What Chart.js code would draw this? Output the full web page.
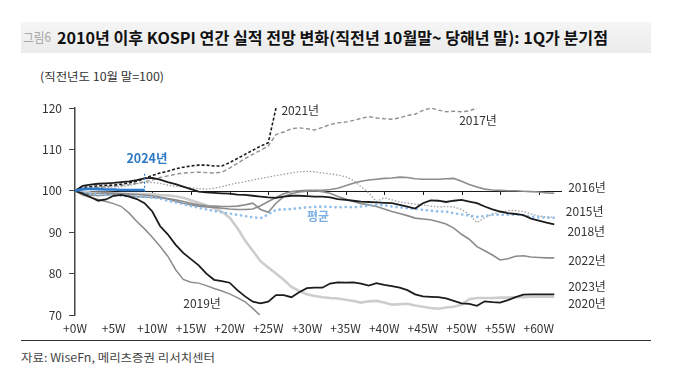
<!DOCTYPE html>
<html><head><meta charset="utf-8">
<script src="https://cdn.jsdelivr.net/npm/chart.js@4"></script>
<style>
html,body{margin:0;padding:0;background:#fff;}
body{width:680px;height:378px;position:relative;overflow:hidden;font-family:"Noto Sans CJK KR","Noto Sans",sans-serif;}
#bar{position:absolute;left:21px;top:22px;width:630px;height:31px;background:linear-gradient(#f5f5f5,#ebebeb);}
.t{position:absolute;white-space:nowrap;transform-origin:0 0;}
#fig{left:23px;top:29px;font-size:13px;color:#a8a8a8;line-height:16px;}
#title{left:57px;top:27px;font-size:16px;font-weight:bold;color:#111;line-height:20px;}
#unit{left:40px;top:68px;font-size:11.5px;color:#333;line-height:16px;}
#rule{position:absolute;left:21px;top:340px;width:630px;height:1px;background:#333;}
#src{left:21px;top:349px;font-size:11.5px;color:#444;line-height:16px;}
canvas{position:absolute;left:0;top:0;}
</style></head>
<body>
<div id="bar"></div>
<div id="fig" class="t">그림6</div>
<div id="title" class="t">2010년 이후 KOSPI 연간 실적 전망 변화(직전년 10월말~ 당해년 말): 1Q가 분기점</div>
<div id="unit" class="t">(직전년도 10월 말=100)</div>
<div id="rule"></div>
<div id="src" class="t">자료: WiseFn, 메리츠증권 리서치센터</div>
<canvas id="c" width="680" height="378"></canvas>
<script>
// ---- data (index = weeks after end of October of previous year) ----
const xTickLabels = ['+0W','+5W','+10W','+15W','+20W','+25W','+30W','+35W','+40W','+45W','+50W','+55W','+60W'];
const yTicks = [70, 80, 90, 100, 110, 120];
const baseValue = 100;

const y2015 = [100,100.3,100.6,100.8,100.8,100.9,101,101.3,101.7,102,102,101.8,101.4,101.1,100.9,100.7,100.5,100.4,100.6,101,101.5,101.9,102.2,102.6,103,103.3,103.7,104,104.3,104.6,104.7,104.6,104.3,104.1,103.8,103.4,102.5,101,99.5,97.4,98.3,97.8,97.3,97,96.8,96.6,96.3,96.1,96.2,96.1,95.5,94.3,92.3,93.5,94.4,94.8,95.2,95.2,95,94.4,93.9,93.7,93.6];
const y2016 = [100,99.6,99.3,99.4,99.5,99.4,99.3,99.2,99.1,99,98.8,98.5,98,97.5,97,96.6,96.3,96.1,96,95.8,95.6,95.5,95.5,95.6,96.4,97.4,98.4,99.3,99.8,100,100.1,100.1,100.1,100.3,100.6,101.2,101.8,102.3,102.6,102.8,103,103.1,103.3,103.2,102.9,102.8,102.8,102.8,102.9,103,102.3,101.5,100.9,100.4,100.2,100.1,100,100,99.9,99.8,99.7,99.5,99.4];
const y2017 = [100,100.4,100.6,100.8,101,101.1,101.3,101.5,101.8,102.2,102.6,103.2,103.6,104,104.3,104.4,104.5,104.4,104.3,104.5,105.5,106.6,107.8,108.8,109.8,110.8,113.6,114.2,115,115.2,115,114.7,115.3,116,116.4,116.6,117,117.5,117.9,117.6,117.4,117.3,117.6,118.2,118.5,119.4,120,119.5,119.1,119.2,119.1,119.3,120];
const y2018 = [100,101.2,101.5,101.7,101.8,101.9,102.1,102.3,102.6,103,103.1,102.7,102.1,101.6,101,100.4,99.8,99.6,99.5,99.4,99.3,99.1,99,98.8,98.6,98.4,98.3,98.6,98.8,98.8,98.7,98.6,98.6,98.4,98,97.8,97.6,97.4,97.3,97.2,97.1,97,96.6,96.2,95.7,97,97.7,97.6,97.3,97.6,97.8,97.4,97,96.2,95.5,95,94.6,94.4,94.1,93.3,92.8,92.3,91.9];
const y2019 = [100,99,98.4,97.9,97.4,96.9,96.2,94.6,92.6,90.8,88.8,86.6,84.2,81,78.6,77.9,77.7,77.1,76.4,75.8,75.1,74.2,73.2,71.6,69.8,68];
const y2020 = [100,99.8,99.6,99.5,99.5,99.4,99.4,99.3,99.3,99.2,99.2,99,98.9,98.7,98.3,97.7,97.1,96.5,95.8,95,93.5,91,88,85.5,83,81.5,80,78.5,76.8,75.8,75,74.6,74.3,74.1,74,73.7,73.4,73,73.3,73.4,73,72.5,72.6,72.7,72.3,72,71.7,71.5,71.8,72,72.5,73.8,74.1,74.1,74.1,74.2,74.2,74.3,74.3,74.4,74.4,74.4,74.4];
const y2021 = [100,100.8,101,101.2,101.3,101.4,101.6,101.9,102.3,103,103.7,104.3,104.7,105.3,105.7,106,106.2,106.2,106,106,106.8,107.8,108.8,109.8,110.8,111.6,120];
const y2022 = [100,99.5,99,98.8,99,99.2,99,98.8,98.6,98.5,98.4,98.3,98.1,97.8,97.4,97,96.6,96.4,96.3,96.2,96.2,96.3,96.6,97,95.5,94.8,97,98.6,99.3,99.7,99.9,100,99.8,99.4,98.6,98,97.4,96.9,96.6,96.2,95.6,95,94.5,94,93.4,93.2,93,92.5,92,91,89.5,88.3,86.5,85.5,84.5,83.3,83.6,84.2,84.3,84,83.9,83.8,83.8];
const y2023 = [100,99.3,98.5,97.6,97.9,98.8,99,98.6,98,97,95,91.5,89.5,87,85,83.5,82,80,78.5,78.2,77.8,76,74.5,73.2,72.8,73.2,74.8,74.8,74.3,75.5,76.5,76.6,76.6,77.6,77.9,77.8,77.9,77.6,77.1,77.7,77.3,77,76.6,76,75,74.5,74.4,74.3,74,73.4,72.8,72.7,72.2,73.3,73.1,73,73.6,74.3,74.9,75,75,75,75];
const y2024 = [100,100.4,100.5,100.4,100.3,100.3,100.2,100.2,100.2,100.2];
const yAvg  = [100,99.6,99.3,99.1,99,98.9,98.8,98.7,98.6,98.5,98.4,98.1,97.6,97.2,96.8,96.3,95.9,95.5,95.1,94.8,94.5,94.2,93.9,93.6,93.4,94.3,95.4,95.5,95.6,95.8,96,96.1,96.2,96.1,96,96.1,96,96.2,96.4,96.6,96.5,96.2,96,95.8,95.6,95.4,95.2,95,95,94.6,94.3,94,93.7,93.9,94.2,94.2,94.2,94.2,94.1,93.8,93.6,93.5,93.5];
const marker2024Week = 9;
const marker2024Range = [99.8, 104.6];

// ---- label annotations (data units) ----
const seriesLabels = [
  {text:'2021년', w:26.7, v:119.3},
  {text:'2017년', w:49.7, v:117.1},
  {text:'2016년', w:63.8, v:100.9},
  {text:'2015년', w:63.5, v:94.9},
  {text:'2018년', w:63.7, v:90.3},
  {text:'2022년', w:63.8, v:83.3},
  {text:'2023년', w:63.8, v:77.0},
  {text:'2020년', w:63.8, v:72.9},
  {text:'2019년', w:14.0, v:72.9},
  {text:'평균',   w:30.0, v:93.7, color:'#7db0e3', bold:true},
  {text:'2024년', w:9.3,  v:107.9, color:'#2e7bc4', bold:true, center:true, size:12.5}
];

function pts(arr){ return arr.map((v,i)=>({x:i, y:v})); }

const BLACK='#1c1c1c', GRAY='#8c8c8c', LGRAY='#cdcdcd', BLUE='#2f7ccc', LBLUE='#8fbde9';
const datasets = [
  {label:'2024', data:pts(y2024), borderColor:BLUE, borderWidth:2.6},
  {label:'2024m', data:[{x:marker2024Week,y:marker2024Range[0]},{x:marker2024Week,y:marker2024Range[1]}], borderColor:BLUE, borderWidth:1.2, borderDash:[2,2]},
  {label:'2023', data:pts(y2023), borderColor:BLACK, borderWidth:1.8},
  {label:'2018', data:pts(y2018), borderColor:BLACK, borderWidth:1.8},
  {label:'2021', data:pts(y2021), borderColor:BLACK, borderWidth:1.6, borderDash:[3,2]},
  {label:'avg', data:pts(yAvg), borderColor:LBLUE, borderWidth:2.6, borderDash:[0.1,5], borderCapStyle:'round'},
  {label:'2017', data:pts(y2017), borderColor:'#909090', borderWidth:1.4, borderDash:[4,2.5]},
  {label:'2015', data:pts(y2015), borderColor:'#a0a0a0', borderWidth:1.3, borderDash:[1.5,1.8]},
  {label:'2016', data:pts(y2016), borderColor:GRAY, borderWidth:1.6},
  {label:'2022', data:pts(y2022), borderColor:GRAY, borderWidth:1.6},
  {label:'2019', data:pts(y2019), borderColor:GRAY, borderWidth:1.5},
  {label:'2020', data:pts(y2020), borderColor:LGRAY, borderWidth:2.6}
].map(d=>Object.assign({pointRadius:0, pointHoverRadius:0, tension:0, fill:false}, d));

const FONT = '"Noto Sans CJK KR","Noto Sans",sans-serif';

const decor = {
  id:'decor',
  beforeDatasetsDraw(chart){
    const {ctx, scales:{x,y}} = chart;
    const yy = Math.round(y.getPixelForValue(baseValue))+0.5;
    ctx.save();
    ctx.strokeStyle='#1a1a1a'; ctx.lineWidth=1;
    ctx.beginPath();
    ctx.moveTo(x.left, yy); ctx.lineTo(x.getPixelForValue(x.max), yy);
    x.ticks.forEach(t=>{ if(t.value===0) return; const px=Math.round(x.getPixelForValue(t.value))+0.5; ctx.moveTo(px,yy); ctx.lineTo(px,yy+3.5); });
    ctx.stroke();
    ctx.restore();
  },
  afterDatasetsDraw(chart){
    const {ctx, scales:{x,y}} = chart;
    ctx.save();
    ctx.textBaseline='middle';
    seriesLabels.forEach(l=>{
      ctx.font=(l.bold?'bold ':'')+(l.size||12)+'px '+FONT;
      ctx.fillStyle=l.color||'#333';
      ctx.textAlign=l.center?'center':'left';
      ctx.fillText(l.text, x.getPixelForValue(l.w), y.getPixelForValue(l.v));
    });
    ctx.restore();
  }
};

new Chart(document.getElementById('c'), {
  type:'line',
  data:{datasets},
  options:{
    responsive:false, animation:false, events:[],
    layout:{padding:{left:0, top:108, right:118, bottom:0}},
    plugins:{legend:{display:false}, tooltip:{enabled:false}},
    scales:{
      x:{type:'linear', min:0, max:63,
        grid:{display:false, drawTicks:false, tickLength:0}, border:{display:false},
        ticks:{stepSize:5, includeBounds:false, autoSkip:false, maxRotation:0, padding:6,
          color:'#333', font:{family:FONT, size:12},
          callback:(v)=> (v%5===0 ? xTickLabels[v/5] : '')},
        afterFit:(s)=>{ s.height=63; }
      },
      y:{min:70, max:120,
        grid:{drawOnChartArea:false, drawTicks:true, tickLength:6, color:'#444', lineWidth:1},
        border:{display:true, color:'#444', width:1.5},
        ticks:{stepSize:10, padding:7, color:'#333', font:{family:FONT, size:12},
          callback:(v)=> yTicks.includes(v)? String(v) : ''},
        afterFit:(s)=>{ s.width=75; }
      }
    }
  },
  plugins:[decor]
});

function fit(id, w){ const el=document.getElementById(id); const cw=el.getBoundingClientRect().width; if(cw>0) el.style.transform='scaleX('+(w/cw)+')'; }
fit('title', 551); fit('fig', 28); fit('unit', 124); fit('src', 194);
</script>
</body></html>
